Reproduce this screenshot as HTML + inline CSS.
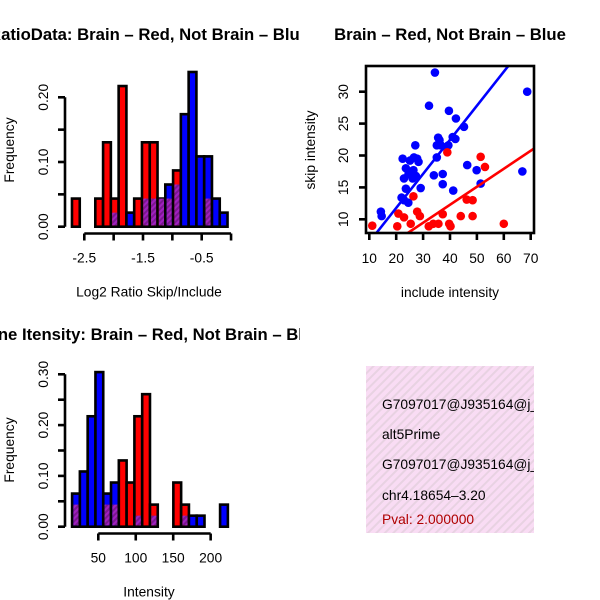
<!DOCTYPE html>
<html><head><meta charset="utf-8"><style>
body{margin:0;background:#fff}
svg{display:block;font-family:"Liberation Sans",sans-serif}
</style></head><body>
<svg id="c" width="600" height="600" viewBox="0 0 600 600" xmlns="http://www.w3.org/2000/svg">
<defs>
<pattern id="pink" width="6" height="6" patternUnits="userSpaceOnUse" patternTransform="rotate(45)">
<rect width="6" height="6" fill="#f9dcf4"/><rect width="2" height="6" fill="#e8d2e2"/></pattern>
<pattern id="purp" width="4" height="4" patternUnits="userSpaceOnUse" patternTransform="rotate(45)">
<rect width="4" height="4" fill="#a020c0"/><rect width="2" height="4" fill="#7a1890"/></pattern>
<clipPath id="clipL"><rect x="0" y="0" width="300" height="600"/></clipPath>
<clipPath id="clipS"><rect x="366" y="66" width="168" height="167"/></clipPath>
<clipPath id="clipT"><rect x="366" y="366" width="168" height="167"/></clipPath>
</defs>
<g id="h1"></g>
<g id="sc"></g>
<g id="h2"></g>
<g>
<rect x="366" y="366" width="168" height="167" fill="url(#pink)"/>
<g clip-path="url(#clipT)" font-size="13.8">
<text x="382" y="409">G7097017@J935164@j_</text>
<text x="382" y="439">alt5Prime</text>
<text x="382" y="469">G7097017@J935164@j_</text>
<text x="382" y="500">chr4.18654–3.20</text>
<text x="382" y="524" fill="#b00000">Pval: 2.000000</text>
</g></g>
</svg>
<script>
// ---- Histogram 1 data (Log2 ratio) ----
const h1Start = -2.71;
const h1Width = 0.1325;
const h1Red  = [1/23,0,0,1/23,3/23,1/23,5/23,0,1/23,3/23,3/23,1/23,1/23,2/23,0,0,0,1/23,0,0];
const h1Blue = [0,0,0,0,0,1/46,0,1/46,0,2/46,2/46,2/46,3/46,3/46,8/46,11/46,5/46,5/46,2/46,1/46];
const h1XTicks = [-2.5,-2,-1.5,-1,-0.5,0];
const h1XLabels = ["-2.5","","-1.5","","-0.5",""];
const h1YTicks = [0,0.05,0.1,0.15,0.2];
const h1YLabels = ["0.00","","0.10","","0.20"];
// ---- Histogram 2 data (Intensity) ----
const h2Start = 15;
const h2Width = 10.4;
const h2Red  = [1/23,0,0,0,1/23,1/23,3/23,2/23,5/23,6/23,1/23,0,0,2/23,1/23,0,0,0,0,0];
const h2Blue = [3/46,5/46,10/46,14/46,3/46,4/46,0,0,1/46,0,1/46,0,0,0,1/46,1/46,1/46,0,0,2/46];
const h2XTicks = [50,100,150,200];
const h2XLabels = ["50","100","150","200"];
const h2YTicks = [0,0.05,0.1,0.15,0.2,0.25,0.3];
const h2YLabels = ["0.00","","0.10","","0.20","","0.30"];
// ---- Scatter data ----
const blueX = [34.4,68.7,32.2,39.6,42.2,45.2,35.6,36.1,36.6,35.1,41,42,38.5,39.4,27.1,35.1,22.4,26.6,27.8,25.1,28.3,23.6,26.4,24.6,27.3,22.9,26.1,46.4,49.9,34,37.3,37.3,29.1,23.6,41.2,51.4,66.9,22,24.5,22.9,14.3,14.6];
const blueY = [33,30,27.8,27,25.8,24.5,22.8,22.4,21.6,21.6,22.9,22.6,21.3,21.6,21.6,19.7,19.5,19.7,19.5,19.2,19,18,17.7,17.1,16.8,16.4,16.4,18.5,17.7,16.9,17.1,15.5,14.9,14.8,14.5,15.6,17.5,13.4,12.6,13,11.2,10.5];
const redX = [11.1,39,51.4,53,26.4,46.2,48.4,20.8,22.9,27.8,28.8,37.3,44,48.4,20.4,25.4,32.1,33.8,35.7,39.7,40.2,60];
const redY = [9,20.5,19.8,18.2,13.6,13.1,13,10.9,10.3,11.2,10.5,10.8,10.5,10.5,8.9,9.3,8.9,9.3,9.3,9.3,8.9,9.3];
const fitIntercept = [1.1,1.0];
const fitSlope = [0.534,0.282];
const scXTicks = [10,20,30,40,50,60,70];
const scYTicks = [10,15,20,25,30];

const FS=13.8, TFS=16.7;
const NS="http://www.w3.org/2000/svg";
function mk(parent,tag,attrs,txt){const e=document.createElementNS(NS,tag);for(const k in attrs)e.setAttribute(k,attrs[k]);if(txt!==undefined)e.textContent=txt;parent.appendChild(e);return e;}

function hist(g,o){
  const sx=v=>o.x0+(v-o.xv0)*o.xk, sy=v=>o.y0-v*o.yk;
  const cg=mk(g,'g',{'clip-path':'url(#clipL)'});
  const t=mk(cg,'text',{x:149,y:o.titleY,'text-anchor':'middle','font-size':TFS,'font-weight':'bold'},o.title);
  
  
  for(let i=0;i<o.red.length;i++){
    const r=o.red[i],b=o.blue[i];const hi=Math.max(r,b),lo=Math.min(r,b);
    if(hi<=0)continue;
    const xl=sx(o.start+i*o.w), xr=sx(o.start+(i+1)*o.w);
    const bar=mk(g,'rect',{x:xl,y:sy(hi),width:xr-xl,height:sy(0)-sy(hi),fill:r>=b?'#ff0000':'#0000ff',stroke:'#000','stroke-width':2.6});
    
    
    if(lo>0){const ov=mk(g,'rect',{x:xl+1.3,y:sy(lo),width:xr-xl-2.6,height:sy(0)-sy(lo)-1.3,fill:'url(#purp)'});
      
      }
  }
  const ya=mk(g,'g',{});
  
  
  mk(ya,'line',{x1:65,x2:65,y1:sy(o.yt[0]),y2:sy(o.yt[o.yt.length-1]),stroke:'#000','stroke-width':2.6});
  o.yt.forEach((v,i)=>{mk(ya,'line',{x1:58,x2:65,y1:sy(v),y2:sy(v),stroke:'#000','stroke-width':2.6});
    if(o.yl[i])mk(ya,'text',{x:0,y:0,transform:`translate(48,${sy(v)}) rotate(-90)`,'text-anchor':'middle','font-size':FS},o.yl[i]);});
  const xa=mk(g,'g',{});
  
  
  const xt=o.xt;
  mk(xa,'line',{x1:sx(xt[0]),x2:sx(xt[xt.length-1]),y1:o.axY,y2:o.axY,stroke:'#000','stroke-width':2.6});
  xt.forEach((v,i)=>{mk(xa,'line',{x1:sx(v),x2:sx(v),y1:o.axY,y2:o.axY+7,stroke:'#000','stroke-width':2.6});
    if(o.xl[i])mk(xa,'text',{x:sx(v),y:o.axY+29,'text-anchor':'middle','font-size':FS},o.xl[i]);});
  const xl=mk(g,'text',{x:149,y:o.axY+63,'text-anchor':'middle','font-size':FS},o.xlab);
  
  
  const yl=mk(g,'text',{x:0,y:0,transform:`translate(14,${o.ylabY}) rotate(-90)`,'text-anchor':'middle','font-size':FS},'Frequency');
  
  
}
hist(document.getElementById('h1'),{x0:84.3,xv0:-2.5,xk:58.7,y0:226.7,yk:647,start:h1Start,w:h1Width,red:h1Red,blue:h1Blue,
  xt:h1XTicks,xl:h1XLabels,yt:h1YTicks,yl:h1YLabels,axY:233.5,xlab:'Log2 Ratio Skip/Include',ylabY:150,titleY:40,
  title:'RatioData: Brain – Red, Not Brain – Blue'});
hist(document.getElementById('h2'),{x0:98.3,xv0:50,xk:0.749,y0:526.7,yk:508,start:h2Start,w:h2Width,red:h2Red,blue:h2Blue,
  xt:h2XTicks,xl:h2XLabels,yt:h2YTicks,yl:h2YLabels,axY:533.5,xlab:'Intensity',ylabY:450,titleY:340,
  title:'Gene Itensity: Brain – Red, Not Brain – Blue'});

(function(){
  const g=document.getElementById('sc');
  const sx=v=>369.3+(v-10)*2.69, sy=v=>219.3-(v-10)*6.38;
  const t=mk(g,'text',{x:450,y:40,'text-anchor':'middle','font-size':TFS,'font-weight':'bold'},'Brain – Red, Not Brain – Blue');
  
  
  const pg=mk(g,'g',{'clip-path':'url(#clipS)'});
  blueX.forEach((x,i)=>{const c=mk(pg,'circle',{cx:sx(x),cy:sy(blueY[i]),r:4.3,fill:'#0000ff'});
    
    });
  redX.forEach((x,i)=>{const c=mk(pg,'circle',{cx:sx(x),cy:sy(redY[i]),r:4.3,fill:'#ff0000'});
    
    });
  ['#0000ff','#ff0000'].forEach((col,k)=>{const x1=0,x2=80;
    const l=mk(pg,'line',{x1:sx(x1),x2:sx(x2),y1:sy(fitIntercept[k]+fitSlope[k]*x1),y2:sy(fitIntercept[k]+fitSlope[k]*x2),stroke:col,'stroke-width':2.6});
    
    });
  const box=mk(g,'rect',{x:366,y:66,width:168,height:167,fill:'none',stroke:'#000','stroke-width':2.6});
  
  
  const xa=mk(g,'g',{});
  
  
  scXTicks.forEach(v=>{mk(xa,'line',{x1:sx(v),x2:sx(v),y1:233,y2:240,stroke:'#000','stroke-width':2.6});
    mk(xa,'text',{x:sx(v),y:263,'text-anchor':'middle','font-size':FS},String(v));});
  const ya=mk(g,'g',{});
  
  
  scYTicks.forEach(v=>{mk(ya,'line',{x1:359,x2:366,y1:sy(v),y2:sy(v),stroke:'#000','stroke-width':2.6});
    mk(ya,'text',{x:0,y:0,transform:`translate(348,${sy(v)}) rotate(-90)`,'text-anchor':'middle','font-size':FS},String(v));});
  const xl=mk(g,'text',{x:450,y:297,'text-anchor':'middle','font-size':FS},'include intensity');
  
  
  const yl=mk(g,'text',{x:0,y:0,transform:'translate(315,150) rotate(-90)','text-anchor':'middle','font-size':FS},'skip intensity');
  
  
})();
</script>
</body></html>
